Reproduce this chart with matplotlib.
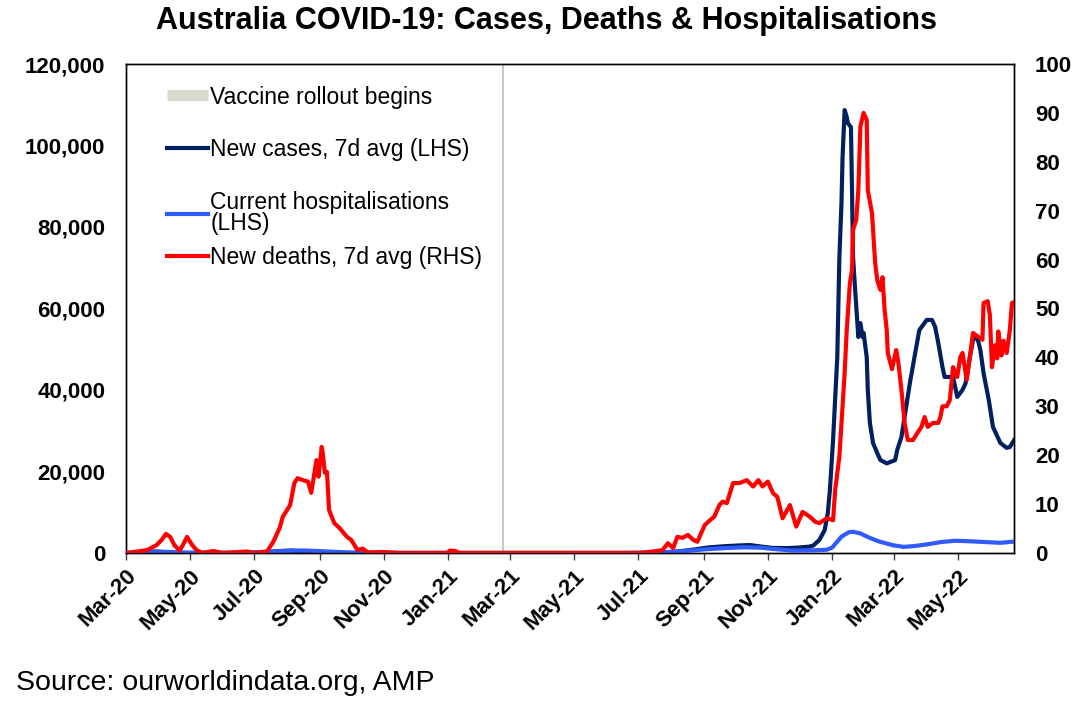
import matplotlib
matplotlib.use('Agg')
import matplotlib.pyplot as plt
import matplotlib.dates as mdates
from matplotlib.lines import Line2D
import pandas as pd

plt.rcParams['font.family'] = ['Liberation Sans', 'DejaVu Sans']

# 7-day average new cases (LHS)
case_dates = [
    "2020-03-01", "2020-03-12", "2020-03-22", "2020-03-30", "2020-04-07", "2020-04-20",
    "2020-05-15", "2020-06-15", "2020-06-30", "2020-07-10", "2020-07-25", "2020-08-05",
    "2020-08-15", "2020-08-31", "2020-09-15", "2020-10-01", "2020-12-15", "2020-12-25",
    "2021-01-10", "2021-06-20", "2021-07-05", "2021-07-20", "2021-08-05", "2021-08-20",
    "2021-09-05", "2021-09-20", "2021-10-05", "2021-10-15", "2021-10-25", "2021-11-05",
    "2021-11-20", "2021-12-01", "2021-12-10", "2021-12-14", "2021-12-20", "2021-12-25",
    "2021-12-28", "2021-12-30", "2022-01-02", "2022-01-06", "2022-01-08", "2022-01-10",
    "2022-01-11", "2022-01-13", "2022-01-15", "2022-01-16", "2022-01-19", "2022-01-20",
    "2022-01-21", "2022-01-23", "2022-01-26", "2022-01-28", "2022-01-30", "2022-01-31",
    "2022-02-03", "2022-02-04", "2022-02-06", "2022-02-09", "2022-02-13", "2022-02-16",
    "2022-02-22", "2022-03-02", "2022-03-04", "2022-03-08", "2022-03-11", "2022-03-16",
    "2022-03-21", "2022-03-25", "2022-04-01", "2022-04-06", "2022-04-09", "2022-04-12",
    "2022-04-16", "2022-04-18", "2022-04-26", "2022-04-30", "2022-05-05", "2022-05-08",
    "2022-05-12", "2022-05-15", "2022-05-19", "2022-05-22", "2022-05-25", "2022-05-30",
    "2022-06-03", "2022-06-10", "2022-06-16", "2022-06-19", "2022-06-23",
]
case_values = [
    0, 60, 320, 380, 200, 30,
    15, 20, 60, 190, 480, 580,
    370, 110, 40, 15, 10, 25,
    10, 15, 40, 130, 300, 750,
    1350, 1650, 1850, 1950, 1600, 1250,
    1200, 1350, 1550, 1800, 3200, 5600,
    9800, 15500, 27700, 48000, 72600, 85900,
    97000, 108700, 107000, 105500, 104500, 89000,
    72600, 64500, 53000, 56400, 53000, 54000,
    48000, 40000, 31900, 27000, 24500, 22800,
    22000, 22800, 25300, 28500, 33400, 41700,
    49000, 54700, 57200, 57200, 55500, 51500,
    45600, 43200, 43200, 38300, 40000, 41700,
    48000, 52300, 53000, 49800, 44200, 37500,
    30900, 27000, 25800, 26000, 27700,
]

# current hospitalisations (LHS)
hosp_dates = [
    "2020-03-01", "2020-03-20", "2020-04-05", "2020-05-01", "2020-06-20", "2020-07-15",
    "2020-08-05", "2020-08-20", "2020-09-10", "2020-10-01", "2020-10-20", "2020-12-30",
    "2021-03-01", "2021-06-15", "2021-07-10", "2021-07-31", "2021-08-20", "2021-09-05",
    "2021-09-25", "2021-10-10", "2021-10-25", "2021-11-10", "2021-11-25", "2021-12-15",
    "2021-12-27", "2022-01-01", "2022-01-05", "2022-01-10", "2022-01-17", "2022-01-21",
    "2022-01-28", "2022-02-05", "2022-02-15", "2022-02-28", "2022-03-10", "2022-03-20",
    "2022-04-01", "2022-04-15", "2022-04-28", "2022-05-10", "2022-05-25", "2022-06-10",
    "2022-06-23",
]
hosp_values = [
    0, 150, 300, 60, 20, 300,
    620, 600, 350, 100, 40, 20,
    15, 20, 80, 250, 600, 950,
    1250, 1400, 1300, 900, 600, 650,
    800, 1300, 2500, 4000, 5100, 5200,
    4800, 3800, 2800, 1900, 1500, 1700,
    2100, 2700, 3000, 2900, 2700, 2500,
    2800,
]

# 7-day average new deaths (RHS)
death_dates = [
    "2020-03-01", "2020-03-12", "2020-03-21", "2020-03-30", "2020-04-04", "2020-04-08",
    "2020-04-12", "2020-04-16", "2020-04-21", "2020-04-25", "2020-04-28", "2020-05-03",
    "2020-05-07", "2020-05-12", "2020-05-23", "2020-06-01", "2020-06-24", "2020-07-01",
    "2020-07-13", "2020-07-19", "2020-07-25", "2020-07-28", "2020-08-04", "2020-08-08",
    "2020-08-11", "2020-08-16", "2020-08-21", "2020-08-24", "2020-08-26", "2020-08-29",
    "2020-08-31", "2020-09-03", "2020-09-04", "2020-09-06", "2020-09-08", "2020-09-10",
    "2020-09-15", "2020-09-20", "2020-09-27", "2020-10-01", "2020-10-07", "2020-10-12",
    "2020-10-17", "2020-11-01", "2020-11-15", "2020-12-31", "2021-01-03", "2021-01-08",
    "2021-01-12", "2021-07-02", "2021-07-15", "2021-07-24", "2021-07-29", "2021-08-03",
    "2021-08-07", "2021-08-12", "2021-08-17", "2021-08-22", "2021-08-26", "2021-09-02",
    "2021-09-07", "2021-09-11", "2021-09-16", "2021-09-19", "2021-09-23", "2021-09-29",
    "2021-10-05", "2021-10-12", "2021-10-18", "2021-10-23", "2021-10-27", "2021-11-01",
    "2021-11-06", "2021-11-10", "2021-11-15", "2021-11-22", "2021-11-28", "2021-12-04",
    "2021-12-11", "2021-12-16", "2021-12-20", "2021-12-27", "2022-01-02", "2022-01-04",
    "2022-01-08", "2022-01-13", "2022-01-15", "2022-01-18", "2022-01-20", "2022-01-21",
    "2022-01-24", "2022-01-26", "2022-01-28", "2022-01-31", "2022-02-03", "2022-02-04",
    "2022-02-08", "2022-02-11", "2022-02-13", "2022-02-16", "2022-02-18", "2022-02-20",
    "2022-02-22", "2022-02-23", "2022-02-27", "2022-03-03", "2022-03-05", "2022-03-08",
    "2022-03-11", "2022-03-14", "2022-03-19", "2022-03-23", "2022-03-27", "2022-03-30",
    "2022-04-02", "2022-04-07", "2022-04-12", "2022-04-14", "2022-04-16", "2022-04-20",
    "2022-04-23", "2022-04-26", "2022-04-30", "2022-05-03", "2022-05-05", "2022-05-09",
    "2022-05-12", "2022-05-15", "2022-05-20", "2022-05-24", "2022-05-25", "2022-05-29",
    "2022-05-31", "2022-06-02", "2022-06-05", "2022-06-07", "2022-06-08", "2022-06-11",
    "2022-06-13", "2022-06-16", "2022-06-19", "2022-06-21", "2022-06-23",
]
death_values = [
    0, 0.3, 0.6, 1.6, 2.7, 3.9,
    3.3, 1.6, 0.5, 2.0, 3.3, 1.6,
    0.6, 0.0, 0.4, 0.0, 0.3, 0.0,
    0.3, 2.3, 5.1, 7.4, 9.8, 14.3,
    15.3, 14.9, 14.6, 12.3, 14.9, 19.0,
    15.6, 21.7, 20.4, 16.4, 16.6, 8.8,
    6.1, 5.1, 3.3, 2.7, 0.6, 0.9,
    0.1, 0.2, 0.0, 0.0, 0.5, 0.4,
    0.0, 0.0, 0.3, 0.6, 2.0, 1.0,
    3.3, 3.1, 3.7, 2.7, 2.3, 5.7,
    6.7, 7.4, 9.8, 10.5, 10.2, 14.3,
    14.3, 14.9, 13.6, 14.9, 13.6, 14.6,
    12.2, 11.5, 7.1, 9.8, 5.4, 8.4,
    7.4, 6.4, 6.1, 7.1, 6.7, 12.9,
    19.7, 36.8, 45.6, 55.2, 57.9, 66.1,
    68.1, 74.2, 87.2, 90.0, 88.5, 74.2,
    69.5, 59.3, 55.8, 53.8, 56.4, 49.7,
    45.6, 40.9, 37.6, 41.5, 39.0, 33.3,
    26.6, 23.1, 23.1, 24.5, 25.8, 27.8,
    25.8, 26.6, 26.6, 27.8, 30.0, 30.0,
    31.3, 38.0, 36.0, 40.1, 40.9, 35.4,
    40.1, 45.0, 44.2, 43.6, 51.1, 51.5,
    48.7, 38.0, 42.5, 39.8, 45.3, 40.4,
    43.4, 40.9, 45.6, 51.1, 51.3,
]

vaccine_date = "2021-02-22"
tick_dates = pd.date_range("2020-03-01", "2022-05-01", freq="2MS")

NAVY = "#00205F"
BLUE = "#2F5BFF"
RED = "#FF0000"
GREY = "#C8C8C8"
LW = 3.0

fig = plt.figure(figsize=(10.75, 7.24), dpi=100)
ax = fig.add_axes([0.1172, 0.2362, 0.8261, 0.6754])
ax2 = ax.twinx()

ax.axvline(pd.Timestamp(vaccine_date), color=GREY, lw=1.5, zorder=1)
ax.plot(pd.to_datetime(case_dates), case_values, color=NAVY, lw=LW, zorder=3)
ax.plot(pd.to_datetime(hosp_dates), hosp_values, color=BLUE, lw=LW, zorder=4)
ax2.plot(pd.to_datetime(death_dates), death_values, color=RED, lw=LW, zorder=3)

ax.set_xlim(pd.Timestamp("2020-03-01"), pd.Timestamp("2022-06-23"))
ax.set_ylim(0, 120000)
ax2.set_ylim(0, 100)
ax.set_yticks(range(0, 120001, 20000))
ax.set_yticklabels([f"{v:,}" for v in range(0, 120001, 20000)])
ax2.set_yticks(range(0, 101, 10))

ax.set_xticks(tick_dates)
ax.xaxis.set_major_formatter(mdates.DateFormatter("%b-%y"))
for lab in ax.get_xticklabels():
    lab.set_rotation(45)
    lab.set_ha("right")
    lab.set_rotation_mode("anchor")

ax.tick_params(axis="x", direction="out", length=5, width=1, color="#404040",
               labelsize=16, pad=4)
ax.tick_params(axis="y", length=0, labelsize=16, pad=15)
ax2.tick_params(axis="y", length=0, labelsize=16, pad=15)
for a in (ax, ax2):
    for lab in a.get_xticklabels() + a.get_yticklabels():
        lab.set_fontweight("bold")
    for sp in a.spines.values():
        sp.set_color("black")
        sp.set_linewidth(1)

# legend: first three rows, then the deaths row placed a bit tighter like the original
leg_opts = dict(frameon=False, fontsize=16.5, handlelength=1.8, handletextpad=0.1,
                borderpad=0, borderaxespad=0)
leg1 = ax2.legend(
    [Line2D([], [], color="#D9D9D0", lw=8, solid_capstyle="butt"),
     Line2D([], [], color=NAVY, lw=LW),
     Line2D([], [], color=BLUE, lw=LW)],
    ["Vaccine rollout begins", "New cases, 7d avg (LHS)",
     "Current hospitalisations\n(LHS)"],
    loc="upper left", bbox_to_anchor=(0.046, 0.956), labelspacing=1.3, **leg_opts)
leg1.get_texts()[2].set_linespacing(0.9)
ax2.add_artist(leg1)
ax2.legend([Line2D([], [], color=RED, lw=LW)], ["New deaths, 7d avg (RHS)"],
           loc="center left", bbox_to_anchor=(0.046, 0.605), **leg_opts)

fig.text(546 / 1075, 0.971, "Australia COVID-19: Cases, Deaths & Hospitalisations",
         ha="center", va="center", fontsize=22, fontweight="bold")
fig.text(16 / 1075, 0.057, "Source: ourworldindata.org, AMP",
         ha="left", va="center", fontsize=20.5)

fig.savefig("out.png", dpi=100)
